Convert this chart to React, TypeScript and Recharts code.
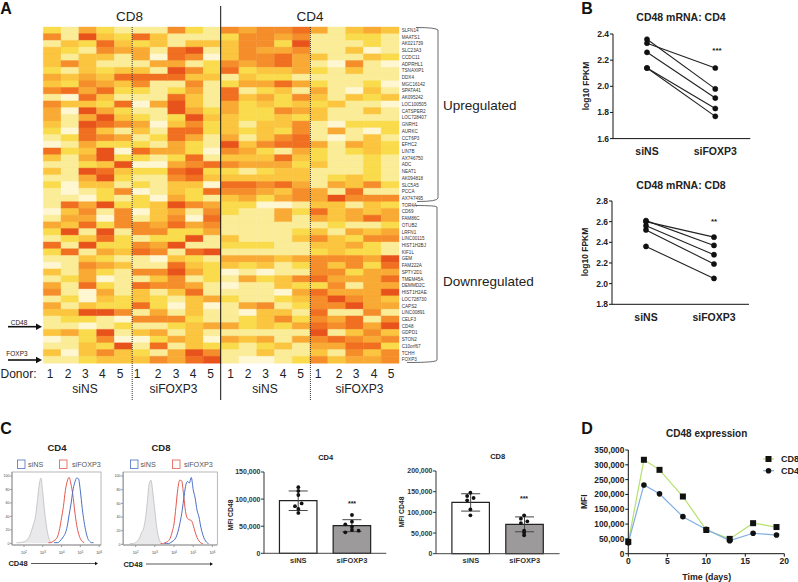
import React from "react";
import {
  BarChart, Bar, Cell, XAxis, YAxis, LineChart, Line, ComposedChart, Area, Scatter, ErrorBar,
} from "recharts";

const FONT = "'Liberation Sans', Arial, sans-serif";

// ---------- Panel A ----------
const genes = [
  "SLFN14","MAATS1","AK021739","SLC23A3","CCDC11","ADPRHL1","TSNAXIP1","DDX4","MGC16142","SPATA41",
  "AK095242","LOC100505","CATSPER2","LOC728407","GNRH1","AURKC","CCT6P3","EFHC2","LIN7B","AX746750",
  "ADC","NEAT1","AK094818","SLC5A5","PCCA","AX747495","TOR4A","CD69","FAM86C","OTUB2","LRFN1",
  "LINC00115","HIST1H2BJ","KIF1L","GEM","FAM222A","SPTY2D1","TMEM45A","DEMMD2C","HIST1H2AE",
  "LOC728730","CAPS2","LINC00891","CELF3","CD48","GDPD1","STON2","C10orf67","TCHH","FOXP3",
];
// One string per gene, one digit (colour level 0-7) per sample.
const heatLevels = [
  "21421115215455641343","51732631112554511221","13263231333552711121","32154416713544511301",
  "31331406503556431132","35311144125456410510","21323317526233421311","43436666331322111111",
  "32543511512446421120","56462212416123141031","10631116316342531323","53326047314232323110",
  "40742117424225431131","41473212733223231111","31765403523133510222","20631316623232514102",
  "12654126414135610131","01422214217356641432","62370644205421421232","31472212613336321121",
  "11237004565444231121","31763226722123311121","11472115633333312321","20331213306656414352",
  "10125013265543541611","11021204213424547555","16472237542200133132","03515034152114263434",
  "14405135061114143464","43625546451111112112","27171552241111231434","12362122713111353255",
  "61722547112221133421","26143651671111123221","11321103214443455547","01543116323231253526",
  "31421557420101155244","12401135121423564446","41621655410113225144","51041313611110464447",
  "12032321342112357543","41322620301451255744","33775141311033161151","12210555211235254615",
  "11012112344232465647","34271341311111171353","01250024304341456545","11327161322123144662",
  "30353214751131131535","11233354671001253445",
];
const levelColors = ["#FEF7D2", "#FBEC98", "#F9DB4C", "#FBC53F", "#F8AA34", "#F58D2B", "#F06F20", "#E8521B"];
const columnIndexes = ["c0","c1","c2","c3","c4","c5","c6","c7","c8","c9","c10","c11","c12","c13","c14","c15","c16","c17","c18","c19"];
const donorLabels = ["1","2","3","4","5"];

// ---------- Panel B ----------
const groups = ["siNS", "siFOXP3"];
const cd4Donors = [[2.36, 1.98], [2.33, 2.14], [2.26, 1.91], [2.14, 1.83], [2.14, 1.77]];
const cd8Donors = [[2.6, 2.45], [2.61, 2.37], [2.56, 2.28], [2.52, 2.19], [2.36, 2.05]];

// ---------- Panel C: histograms ----------
const logIntensity = [1.4,1.5,1.6,1.7,1.8,1.9,2.0,2.1,2.2,2.3,2.4,2.5,2.6,2.7,2.8,2.9,3.0,3.1,3.2,3.3,3.4,3.5,3.6,3.7,3.8,3.9,4.0,4.1,4.2,4.3,4.4,4.5,4.6,4.7,4.8,4.9,5.0,5.1,5.2,5.3,5.4,5.5,5.6,5.7,5.8,5.9,6.0];
const cd4Isotype = [0,0,1,1,1,2,2,4,6,11,19,28,38,60,85,97,75,47,25,10,3,1,0];
const cd4SiFoxp3 = [0,0,0,0,0,0,0,0,0,0,0,0,0,0,0,0,0,0,0,1,1,2,4,6,11,22,38,55,78,92,98,88,72,48,28,15,7,3,1,0];
const cd4SiNs = [0,0,0,0,0,0,0,0,0,0,0,0,0,0,0,0,0,0,0,0,0,0,1,1,1,3,6,10,15,25,42,58,78,90,97,96,78,52,32,17,7,3,1,1];
const cd8Isotype = [0,0,0,1,1,1,3,5,9,17,22,36,60,88,94,75,50,25,10,3,1,0];
const cd8SiFoxp3 = [0,0,0,0,0,0,0,0,0,0,0,0,0,0,0,0,0,0,0,1,1,2,3,5,9,18,30,55,82,94,93,72,48,38,36,35,28,18,10,5,2,1];
const cd8SiNs = [0,0,0,0,0,0,0,0,0,0,0,0,0,0,0,0,0,0,0,0,0,1,1,1,2,4,6,10,18,30,45,65,85,92,90,98,80,68,50,40,25,14,7,3,1];
const histogramYTicks = [0, 20, 40, 60, 80, 100];
const histogramXTicks = [2, 3, 4, 5, 6];

// ---------- Panel C: bars ----------
const cd4BarMeans = [97000, 51000];
const cd4BarErrors = [[18000, 18000], [11000, 11000]];
const cd4BarDots = [
  [122000,115000,107600,92000,87000,81800,74400],
  [70700,58400,53500,49000,43000,41800,38700],
];
const cd4DotOffsets = [[0,0,0,0.062,-0.062,0,0],[0,0,-0.124,0,0,0.124,-0.124]];
const cd8BarMeans = [124000, 71000];
const cd8BarErrors = [[21000, 21000], [18000, 18000]];
const cd8BarDots = [
  [147600,139500,134700,129000,107000,92700],
  [92800,84700,78300,74000,55600,50000,44500],
];
const cd8DotOffsets = [[0,-0.06,0.06,-0.06,0,0],[0,-0.06,0.06,-0.06,0,0,0]];

// ---------- Panel D ----------
const days = [0, 2, 4, 7, 10, 13, 16, 19];
const cd8Mfi = [40000, 317000, 283000, 193000, 80000, 50000, 103000, 90000];
const cd4Mfi = [37000, 232000, 202000, 125000, 82000, 44000, 69000, 63000];
const mfiTicks = [0, 50000, 100000, 150000, 200000, 250000, 300000, 350000];
const dayTicks = [0, 5, 10, 15, 20];

// ---------- tables ----------
const heatRows = genes.map((gene) => {
  const row: Record<string, string | number> = { gene };
  columnIndexes.forEach((c) => { row[c] = 1; });
  return row;
});
const keep = (arr: number[], i: number) => (arr[i] ? arr[i] : null);
const histogramTable = (iso: number[], red: number[], blue: number[]) =>
  logIntensity.map((x, i) => ({ x, iso: keep(iso, i), red: keep(red, i), blue: keep(blue, i) }));
const pairedTable = (donors: number[][]) =>
  groups.map((g, i) => {
    const row: Record<string, string | number> = { group: g };
    donors.forEach((d, k) => { row["d" + k] = d[i]; });
    return row;
  });
const barTable = (means: number[], errs: number[][]) =>
  means.map((m, i) => ({ group: groups[i], value: m, err: errs[i] }));
const dotTable = (dots: number[][], offs: number[][]) =>
  dots.flatMap((list, g) => list.map((v, i) => ({ pos: g + 1 + offs[g][i], value: v })));
const timeTable = days.map((d, i) => ({ day: d, cd8: cd8Mfi[i], cd4: cd4Mfi[i] }));

const fmt = (v: number) => v.toLocaleString("en-US");

type Rect = { x: number; y: number; w: number; h: number };
const boxStyle = (b: Rect): React.CSSProperties => ({ position: "absolute", left: b.x, top: b.y, width: b.w, height: b.h });
const marginFor = (b: Rect, p: Rect, yw = 0, xh = 0, yRight = 0) => ({
  left: p.x - b.x - yw,
  top: p.y - b.y,
  right: b.x + b.w - p.x - p.w - yRight,
  bottom: b.y + b.h - p.y - p.h - xh,
});

function Heatmap() {
  const box = { x: 30, y: 20, w: 420, h: 350 };
  const plot = { x: 43.3, y: 27, w: 355.7, h: 336 };
  return (
    <div style={boxStyle(box)}>
      <BarChart width={box.w} height={box.h} data={heatRows} layout="vertical" margin={marginFor(box, plot, 0, 0, 40)} barCategoryGap={0}>
        <XAxis type="number" domain={[0, 20]} hide />
        <YAxis type="category" dataKey="gene" orientation="right" width={40} interval={0} axisLine={false} tickLine={false} tickSize={0} tickMargin={2.7}
          tick={{ fontSize: 4.6, fill: "#333", fontFamily: FONT, textAnchor: "start" }} />
        {columnIndexes.map((c, ci) => (
          <Bar key={c} dataKey={c} stackId="h" isAnimationActive={false}>
            {genes.map((g, r) => {
              const col = levelColors[Number(heatLevels[r][ci])];
              return <Cell key={g} fill={col} stroke={col} strokeWidth={0.4} />;
            })}
          </Bar>
        ))}
      </BarChart>
    </div>
  );
}

function Paired({ plot, donors, domain, ticks }: { plot: Rect; donors: number[][]; domain: number[]; ticks: number[] }) {
  const box = { x: plot.x - 30, y: plot.y - 6, w: plot.w + 36, h: plot.h + 26 };
  return (
    <div style={boxStyle(box)}>
      <LineChart width={box.w} height={box.h} data={pairedTable(donors)} margin={marginFor(box, plot, 28, 18)}>
        <XAxis dataKey="group" padding={{ left: 34, right: 35 }} height={18} interval={0} stroke="#111" tickLine={false} tickMargin={3}
          tick={{ fontSize: 10.5, fontWeight: 700, fill: "#222", fontFamily: FONT }} />
        <YAxis width={28} type="number" domain={domain as any} ticks={ticks} stroke="#111" tickSize={3} tickMargin={1} tickFormatter={(v: number) => v.toFixed(1)}
          tick={{ fontSize: 8.5, fontWeight: 700, fill: "#222", fontFamily: FONT }} />
        {donors.map((_, k) => (
          <Line key={k} dataKey={"d" + k} stroke="#222" strokeWidth={1.1} isAnimationActive={false}
            dot={{ r: 2.6, fill: "#111", stroke: "#111", strokeWidth: 0.5 }} />
        ))}
      </LineChart>
    </div>
  );
}

const XPowTick = (props: any) => {
  const { x, y, payload } = props;
  return (
    <text x={x} y={y + 5} textAnchor="middle" fontSize={3.8} fill="#444" fontFamily={FONT}>
      10<tspan dy={-1.2} fontSize={2.8}>{payload.value}</tspan>
    </text>
  );
};

function Histogram({ plot, table, domainX, domainY }: { plot: Rect; table: any[]; domainX: number[]; domainY: number[] }) {
  const box = { x: plot.x - 12, y: plot.y - 3, w: plot.w + 16, h: plot.h + 15 };
  return (
    <div style={boxStyle(box)}>
      <ComposedChart width={box.w} height={box.h} data={table} margin={marginFor(box, plot, 11, 10)}>
        <XAxis type="number" dataKey="x" domain={domainX as any} allowDataOverflow ticks={histogramXTicks} height={10} stroke="#999" tickSize={2} tick={<XPowTick />} />
        <YAxis type="number" domain={domainY as any} allowDataOverflow ticks={histogramYTicks} width={11} stroke="#999" tickSize={2} tickMargin={0.5}
          tick={{ fontSize: 3.6, fill: "#444", fontFamily: FONT }} />
        <Area dataKey="iso" type="monotone" stroke="#ABABAB" strokeWidth={0.6} fill="#E9E9EC" fillOpacity={1} isAnimationActive={false} dot={false} />
        <Line dataKey="red" type="monotone" stroke="#E4574C" strokeWidth={1} isAnimationActive={false} dot={false} />
        <Line dataKey="blue" type="monotone" stroke="#4A6FC4" strokeWidth={1} isAnimationActive={false} dot={false} />
      </ComposedChart>
    </div>
  );
}

function MfiBars({ plot, means, errs, dots, offs, domainX, pad, maxY, ticks }: { plot: Rect; means: number[]; errs: number[][]; dots: number[][]; offs: number[][]; domainX: number[]; pad: number; maxY: number; ticks: number[] }) {
  const box = { x: plot.x - 36, y: plot.y - 5, w: plot.w + 40, h: plot.h + 20 };
  return (
    <div style={boxStyle(box)}>
      <ComposedChart width={box.w} height={box.h} data={barTable(means, errs)} margin={marginFor(box, plot, 34, 15)}>
        <XAxis xAxisId="cat" dataKey="group" padding={{ left: pad, right: pad }} height={15} stroke="#444" strokeWidth={1} tickLine={false} tickSize={0} tickMargin={4} interval={0}
          tick={{ fontSize: 7.5, fontWeight: 700, fill: "#333", fontFamily: FONT }} />
        <XAxis xAxisId="num" type="number" dataKey="pos" domain={domainX as any} allowDataOverflow hide />
        <YAxis type="number" domain={[0, maxY]} ticks={ticks} width={34} stroke="#333" tickSize={3} tickMargin={0.5} tickFormatter={fmt}
          tick={{ fontSize: 7, fontWeight: 700, fill: "#333", fontFamily: FONT }} />
        <Bar xAxisId="cat" dataKey="value" barSize={37.5} stroke="#222" strokeWidth={1.2} isAnimationActive={false}>
          {means.map((m, i) => <Cell key={i} fill={i === 0 ? "#FFFFFF" : "#9C9A9B"} />)}
          <ErrorBar dataKey="err" width={9.5} stroke="#444" strokeWidth={1} direction="y" />
        </Bar>
        <Scatter xAxisId="num" data={dotTable(dots, offs)} dataKey="value" fill="#111" isAnimationActive={false}
          shape={(p: any) => <circle cx={p.cx} cy={p.cy} r={1.9} fill="#111" />} />
      </ComposedChart>
    </div>
  );
}

function TimeCourse() {
  const plot = { x: 628.3, y: 450, w: 156, h: 103.7 };
  const box = { x: 590, y: 444, w: 205, h: 126 };
  return (
    <div style={boxStyle(box)}>
      <LineChart width={box.w} height={box.h} data={timeTable} margin={marginFor(box, plot, 37, 15)}>
        <XAxis type="number" dataKey="day" domain={[0, 20]} ticks={dayTicks} height={15} stroke="#111" tickSize={3} tickMargin={1}
          tick={{ fontSize: 8.5, fontWeight: 700, fill: "#222", fontFamily: FONT }} />
        <YAxis type="number" domain={[0, 350000]} ticks={mfiTicks} width={37} stroke="#111" tickSize={3} tickMargin={1} tickFormatter={fmt}
          tick={{ fontSize: 8.3, fontWeight: 700, fill: "#222", fontFamily: FONT }} />
        <Line dataKey="cd8" stroke="#B6E06C" strokeWidth={1.2} isAnimationActive={false}
          dot={(p: any) => <rect key={p.index} x={p.cx - 3} y={p.cy - 3} width={6} height={6} fill="#111" />} />
        <Line dataKey="cd4" stroke="#7FAEE2" strokeWidth={1.2} isAnimationActive={false}
          dot={(p: any) => <circle key={p.index} cx={p.cx} cy={p.cy} r={2.8} fill="#111" />} />
      </LineChart>
    </div>
  );
}

const T = (p: any) => <text fontFamily={FONT} textAnchor="middle" dominantBaseline="central" fill="#222" {...p} />;

function Arrow({ x1, x2, y, w = 1.6, head = 6 }: { x1: number; x2: number; y: number; w?: number; head?: number }) {
  return (
    <g>
      <line x1={x1} x2={x2 - head + 1} y1={y} y2={y} stroke="#111" strokeWidth={w} />
      <path d={`M${x2} ${y} L${x2 - head} ${y - head * 0.55} L${x2 - head} ${y + head * 0.55} Z`} fill="#111" />
    </g>
  );
}

function Overlay() {
  const donorX = [50, 68, 85.3, 102.3, 120, 137, 158, 176, 193, 210.7, 230.7, 248, 265.7, 283, 300.7, 318, 339, 356, 374, 391];
  return (
    <svg width={798} height={582} style={{ position: "absolute", left: 0, top: 0, pointerEvents: "none" }}>
      <T x={6} y={8} fontSize={16} fontWeight={700} fill="#111">A</T>
      <T x={587} y={8} fontSize={16} fontWeight={700} fill="#111">B</T>
      <T x={6} y={428} fontSize={16} fontWeight={700} fill="#111">C</T>
      <T x={587} y={428} fontSize={16} fontWeight={700} fill="#111">D</T>

      <T x={129.5} y={16} fontSize={13.5}>CD8</T>
      <T x={310} y={16} fontSize={13.5}>CD4</T>
      <line x1={220.7} x2={220.7} y1={6} y2={400} stroke="#111" strokeWidth={1} />
      <line x1={132.2} x2={132.2} y1={27} y2={400} stroke="#333" strokeWidth={1} strokeDasharray="1 1" />
      <line x1={310.4} x2={310.4} y1={27} y2={400} stroke="#333" strokeWidth={1} strokeDasharray="1 1" />

      <T x={18.5} y={373.5} fontSize={12}>Donor:</T>
      {donorX.map((x, i) => <T key={i} x={x} y={373.5} fontSize={12}>{donorLabels[i % 5]}</T>)}
      <T x={85} y={389} fontSize={12}>siNS</T>
      <T x={173.5} y={389} fontSize={12}>siFOXP3</T>
      <T x={265} y={389} fontSize={12}>siNS</T>
      <T x={359.5} y={389} fontSize={12}>siFOXP3</T>

      <path d="M416 27.5 Q436 27.5 438 30 L438 198 Q438 201.5 417 201.5" fill="none" stroke="#444" strokeWidth={0.8} />
      <path d="M416 205.5 Q436 205.5 437 207 L437 360 Q437 362.5 407 362.5" fill="none" stroke="#444" strokeWidth={0.8} />
      <T x={443} y={105} fontSize={13.5} textAnchor="start">Upregulated</T>
      <T x={443} y={281} fontSize={13.5} textAnchor="start">Downregulated</T>

      <T x={19} y={322} fontSize={6.5}>CD48</T>
      <T x={17} y={353} fontSize={6.5}>FOXP3</T>
      <Arrow x1={8} x2={42} y={326.7} />
      <Arrow x1={8} x2={42} y={360} />

      <T x={681} y={17} fontSize={10.5} fontWeight={700}>CD48 mRNA: CD4</T>
      <T x={681} y={185} fontSize={10.5} fontWeight={700}>CD48 mRNA: CD8</T>
      <T x={586} y={86} fontSize={8.5} fontWeight={700} transform="rotate(-90 586 86)">log10 FPKM</T>
      <T x={585} y={252} fontSize={8.5} fontWeight={700} transform="rotate(-90 585 252)">log10 FPKM</T>
      <T x={717} y={50} fontSize={8} fontWeight={700}>***</T>
      <T x={714} y={221} fontSize={8} fontWeight={700}>**</T>

      <T x={57} y={447} fontSize={9.5} fontWeight={700}>CD4</T>
      <T x={161} y={447} fontSize={9.5} fontWeight={700}>CD8</T>
      <rect x={17.5} y={460} width={7.5} height={8.5} fill="none" stroke="#4A6FC4" strokeWidth={0.8} />
      <T x={28} y={464} fontSize={7.2} textAnchor="start" fill="#555">siNS</T>
      <rect x={59.5} y={460} width={7.5} height={8.5} fill="none" stroke="#E4574C" strokeWidth={0.8} />
      <T x={72} y={464} fontSize={7.2} textAnchor="start" fill="#555">siFOXP3</T>
      <rect x={130.5} y={460} width={7.5} height={8.5} fill="none" stroke="#4A6FC4" strokeWidth={0.8} />
      <T x={140.5} y={464} fontSize={7.2} textAnchor="start" fill="#555">siNS</T>
      <rect x={172.5} y={460} width={7.5} height={8.5} fill="none" stroke="#E4574C" strokeWidth={0.8} />
      <T x={184} y={464} fontSize={7.2} textAnchor="start" fill="#555">siFOXP3</T>
      <rect x={12} y={472} width={89} height={73} fill="none" stroke="#999" strokeWidth={0.7} />
      <rect x={123.3} y={472} width={94} height={73} fill="none" stroke="#999" strokeWidth={0.7} />
      <T x={18} y={563.5} fontSize={7.5} fontWeight={700}>CD48</T>
      <T x={133} y={564} fontSize={7.5} fontWeight={700}>CD48</T>
      <Arrow x1={31} x2={98} y={563.5} w={0.7} head={3} />
      <Arrow x1={146} x2={213} y={564} w={0.7} head={3} />

      <T x={325.7} y={457.7} fontSize={7.5} fontWeight={700}>CD4</T>
      <T x={497.7} y={456.5} fontSize={7.5} fontWeight={700}>CD8</T>
      <T x={230} y={515} fontSize={6.8} fontWeight={700} transform="rotate(-90 230 515)">MFI CD48</T>
      <T x={401} y={512} fontSize={6.8} fontWeight={700} transform="rotate(-90 401 512)">MFI CD48</T>
      <T x={352} y={503} fontSize={7} fontWeight={700}>***</T>
      <T x={524} y={498} fontSize={7} fontWeight={700}>***</T>

      <T x={706.7} y={433} fontSize={10} fontWeight={700}>CD48 expression</T>
      <T x={584} y={501.7} fontSize={8.5} fontWeight={700} transform="rotate(-90 584 501.7)">MFI</T>
      <T x={706.7} y={577} fontSize={8.8} fontWeight={700}>Time (days)</T>
      <line x1={763} x2={774} y1={459} y2={459} stroke="#B6E06C" strokeWidth={1.2} />
      <rect x={765.5} y={456} width={6} height={6} fill="#111" />
      <T x={781} y={459} fontSize={9} fontWeight={700} textAnchor="start">CD8</T>
      <line x1={763} x2={774} y1={470.7} y2={470.7} stroke="#7FAEE2" strokeWidth={1.2} />
      <circle cx={768.5} cy={470.7} r={2.8} fill="#111" />
      <T x={781} y={470.7} fontSize={9} fontWeight={700} textAnchor="start">CD4</T>
    </svg>
  );
}

export default function App() {
  return (
    <div style={{ position: "absolute", left: 0, top: 0, width: 798, height: 582, background: "#fff", overflow: "hidden", fontFamily: FONT }}>
      <Heatmap />
      <Paired plot={{ x: 612.7, y: 33.7, w: 137.3, h: 104.6 }} donors={cd4Donors} domain={[1.6, 2.4]} ticks={[1.6, 1.8, 2.0, 2.2, 2.4]} />
      <Paired plot={{ x: 612, y: 201, w: 137, h: 103.3 }} donors={cd8Donors} domain={[1.8, 2.8]} ticks={[1.8, 2.0, 2.2, 2.4, 2.6, 2.8]} />
      <Histogram plot={{ x: 12, y: 472, w: 89, h: 73 }} table={histogramTable(cd4Isotype, cd4SiFoxp3, cd4SiNs)} domainX={[1.36, 6.1]} domainY={[-2.5, 106]} />
      <Histogram plot={{ x: 123.3, y: 472, w: 94, h: 73 }} table={histogramTable(cd8Isotype, cd8SiFoxp3, cd8SiNs)} domainX={[1.34, 6.24]} domainY={[-1, 106]} />
      <MfiBars plot={{ x: 264, y: 472, w: 122.3, h: 81.3 }} means={cd4BarMeans} errs={cd4BarErrors} dots={cd4BarDots} offs={cd4DotOffsets} domainX={[0.36, 2.64]} pad={7.45} maxY={150000} ticks={[0, 50000, 100000, 150000]} />
      <MfiBars plot={{ x: 435.7, y: 471, w: 123.6, h: 82.7 }} means={cd8BarMeans} errs={cd8BarErrors} dots={cd8BarDots} offs={cd8DotOffsets} domainX={[0.36, 2.66]} pad={7.9} maxY={200000} ticks={[0, 50000, 100000, 150000, 200000]} />
      <TimeCourse />
      <Overlay />
    </div>
  );
}
